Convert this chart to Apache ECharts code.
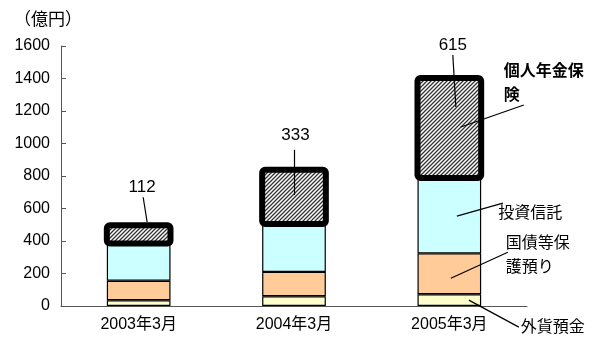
<!DOCTYPE html>
<html>
<head>
<meta charset="utf-8">
<script src="https://cdn.jsdelivr.net/npm/echarts@6/dist/echarts.min.js"></script>
<style>
  html, body { margin: 0; padding: 0; background: #fff; }
  #chart { width: 603px; height: 338px; }
</style>
</head>
<body>
<div id="chart"></div>
<script>
// 残高の推移（億円）
const categories = ['2003年3月', '2004年3月', '2005年3月'];
const seriesNames = ['外貨預金', '国債等保護預り', '投資信託', '個人年金保険'];
const foreignDeposits = [35, 60, 72];
const jgbCustody = [120, 150, 252];
const investmentTrusts = [230, 295, 464];
const pensionInsurance = [112, 333, 615];
const yTicks = [0, 200, 400, 600, 800, 1000, 1200, 1400, 1600];

const FONT = "'Liberation Sans', 'Noto Sans CJK JP', sans-serif";
const BAR_RATIO = 0.41;

// diagonal hatch fill for the pension segment
function hatchPattern() {
  const c = document.createElement('canvas');
  c.width = 4; c.height = 4;
  const g = c.getContext('2d');
  g.fillStyle = '#ffffff';
  g.fillRect(0, 0, 4, 4);
  g.strokeStyle = '#333333';
  g.lineWidth = 1.3;
  g.beginPath();
  g.moveTo(-1, 5); g.lineTo(5, -1);
  g.moveTo(-1, 1); g.lineTo(1, -1);
  g.moveTo(3, 5); g.lineTo(5, 3);
  g.stroke();
  return c;
}

const stacks = [foreignDeposits, jgbCustody, investmentTrusts, pensionInsurance];
const totals = categories.map((_, i) => stacks.reduce((s, arr) => s + arr[i], 0));
const pensionBase = categories.map((_, i) => totals[i] - pensionInsurance[i]);

// value callouts above each bar: [labelDx, labelDy, lineStartDx, lineStartDy, lineEndDx, lineEndDy]
const valueCallout = [
  [3.5, -38, 4.5, -28, 8.5, -3],
  [1.5, -35, 0.5, -20, 0.5, 25],
  [3.5, -33, 3.5, -23, 6.5, 29]
];

// series-name callouts beside the last bar, relative to each segment's midpoint
// [textDx, textDy, lineStartDx, lineStartDy, lineEndDx, lineEndDy, bold]
const nameCallout = [
  [71.5, 27, 69.5, 27, 19.5, 0, false],
  [56.5, -18.5, 58.5, -21.5, 1.5, 4.5, false],
  [49, -2.5, 53.5, -12.5, 7.5, 0.5, false],
  [54.5, -44, 74.5, -23, 11.5, -1, true]
];
const nameText = ['外貨預金', '国債等保\n護預り', '投資信託', '個人年金保\n険'];

const last = categories.length - 1;
const segData = [];
let base = 0;
stacks.forEach((arr, k) => {
  segData.push([last, base, arr[last], k]);
  base += arr[last];
});

const segStyle = (color) => ({ color: color, borderColor: '#000', borderWidth: 1.2 });

const chart = echarts.init(document.getElementById('chart'), null, { renderer: 'canvas' });
chart.setOption({
  animation: false,
  textStyle: { fontFamily: FONT },
  title: {
    text: '（億円）',
    left: 9, top: 7,
    textStyle: { fontSize: 17, fontWeight: 'normal', color: '#000', fontFamily: FONT }
  },
  grid: { left: 61, right: 76, top: 46, bottom: 32, containLabel: false },
  xAxis: {
    type: 'category',
    data: categories,
    axisLine: { lineStyle: { color: '#555', width: 1 } },
    axisTick: { inside: true, length: 5, lineStyle: { color: '#555' } },
    axisLabel: { color: '#000', fontSize: 16, margin: 11, fontFamily: FONT }
  },
  yAxis: {
    type: 'value',
    min: yTicks[0], max: yTicks[yTicks.length - 1], interval: 200,
    splitLine: { show: false },
    axisLine: { show: true, lineStyle: { color: '#555', width: 1 } },
    axisTick: { show: true, inside: true, length: 5, lineStyle: { color: '#555' } },
    axisLabel: { color: '#000', fontSize: 16, margin: 11, fontFamily: FONT,
                 formatter: (v) => String(v) }
  },
  series: [
    { name: seriesNames[0], type: 'bar', stack: 't', barWidth: (BAR_RATIO * 100) + '%', data: foreignDeposits, itemStyle: segStyle('#FFFFCC') },
    { name: seriesNames[1], type: 'bar', stack: 't', data: jgbCustody, itemStyle: segStyle('#FFCC99') },
    { name: seriesNames[2], type: 'bar', stack: 't', data: investmentTrusts, itemStyle: segStyle('#CCFFFF') },
    { name: seriesNames[3], type: 'bar', stack: 't', data: pensionInsurance,
      itemStyle: { color: { image: hatchPattern(), repeat: 'repeat' }, borderWidth: 0 } },
    // heavy rounded outline around the pension segment, stroked on its edges
    {
      type: 'custom',
      z: 4,
      clip: false,
      data: categories.map((_, i) => [i, pensionBase[i], totals[i]]),
      renderItem: function (params, api) {
        const lo = api.coord([api.value(0), api.value(1)]);
        const hi = api.coord([api.value(0), api.value(2)]);
        const w = api.size([1, 0])[0] * BAR_RATIO;
        return {
          type: 'rect',
          shape: { x: lo[0] - w / 2, y: hi[1], width: w, height: lo[1] - hi[1], r: 3 },
          style: { fill: null, stroke: '#000', lineWidth: 6 }
        };
      }
    },
    {
      type: 'custom',
      z: 5,
      clip: false,
      data: categories.map((_, i) => [i, totals[i], pensionInsurance[i]]),
      renderItem: function (params, api) {
        const i = params.dataIndex;
        const p = api.coord([api.value(0), api.value(1)]);
        const g = valueCallout[i];
        return {
          type: 'group',
          children: [
            { type: 'line', shape: { x1: p[0] + g[2], y1: p[1] + g[3], x2: p[0] + g[4], y2: p[1] + g[5] },
              style: { stroke: '#000', lineWidth: 1.2 } },
            { type: 'text', x: p[0] + g[0], y: p[1] + g[1],
              style: { text: String(api.value(2)), fill: '#000', font: '17px ' + FONT, align: 'center', verticalAlign: 'middle' } }
          ]
        };
      }
    },
    {
      type: 'custom',
      z: 5,
      clip: false,
      data: segData,
      renderItem: function (params, api) {
        const k = api.value(3);
        const mid = api.coord([api.value(0), api.value(1) + api.value(2) / 2]);
        const g = nameCallout[k];
        return {
          type: 'group',
          children: [
            { type: 'line', shape: { x1: mid[0] + g[2], y1: mid[1] + g[3], x2: mid[0] + g[4], y2: mid[1] + g[5] },
              style: { stroke: '#000', lineWidth: 1.2 } },
            { type: 'text', x: mid[0] + g[0], y: mid[1] + g[1],
              style: { text: nameText[k], fill: '#000', font: (g[6] ? 'bold ' : '') + '16px ' + FONT,
                       lineHeight: 24, align: 'left', verticalAlign: 'middle' } }
          ]
        };
      }
    }
  ]
});
</script>
</body>
</html>
